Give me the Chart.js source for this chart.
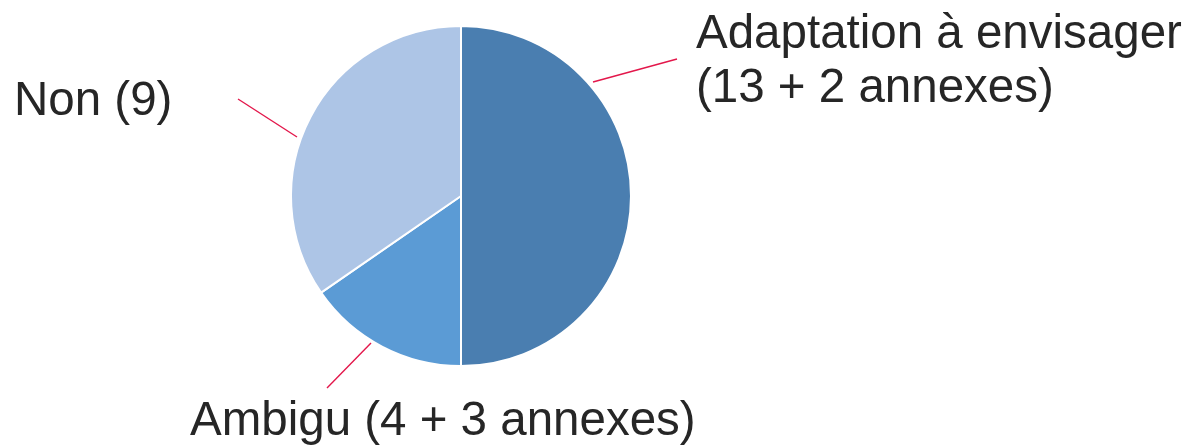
<!DOCTYPE html>
<html>
<head>
<meta charset="utf-8">
<script src="https://cdn.jsdelivr.net/npm/chart.js@4/dist/chart.umd.min.js"></script>
<style>
  html, body { margin: 0; padding: 0; background: #ffffff; }
  #wrap { position: relative; width: 1189px; height: 445px; }
</style>
</head>
<body>
<div id="wrap"><canvas id="c"></canvas></div>
<script>
// ---- data ----
const categories = ["Adaptation à envisager", "Ambigu", "Non"];
const values = [13, 4, 9];
const labelLines = [
  ["Adaptation à envisager", "(13 + 2 annexes)"],
  ["Ambigu (4 + 3 annexes)"],
  ["Non (9)"]
];
const colors = ["#4A7EB0", "#5B9BD5", "#ADC5E6"];

// ---- label layout (offsets from the pie centre, px) ----
const labelLayout = [
  { tx: 235, ty: -148, lineH: 54, leader: [[132, -114], [216, -137]] },
  { tx: -271, ty: 239, lineH: 54, leader: [[-90, 147], [-134, 192]] },
  { tx: -447, ty: -81, lineH: 54, leader: [[-164, -59], [-223, -97]] }
];

const calloutPlugin = {
  id: 'callouts',
  afterDatasetsDraw(chart) {
    const ctx = chart.ctx;
    const meta = chart.getDatasetMeta(0);
    meta.data.forEach((arc, i) => {
      const cx = arc.x, cy = arc.y;
      const L = labelLayout[i];
      ctx.save();
      ctx.strokeStyle = '#E3174B';
      ctx.lineWidth = 1.4;
      ctx.beginPath();
      ctx.moveTo(cx + L.leader[0][0], cy + L.leader[0][1]);
      ctx.lineTo(cx + L.leader[1][0], cy + L.leader[1][1]);
      ctx.stroke();
      ctx.fillStyle = '#262626';
      ctx.font = '47.5px "Liberation Sans", Arial, sans-serif';
      ctx.textAlign = 'left';
      ctx.textBaseline = 'alphabetic';
      labelLines[i].forEach((t, k) => {
        ctx.fillText(t, cx + L.tx, cy + L.ty + k * L.lineH);
      });
      ctx.restore();
    });
  }
};

new Chart(document.getElementById('c'), {
  type: 'pie',
  data: {
    labels: categories,
    datasets: [{
      data: values,
      backgroundColor: colors,
      borderColor: '#ffffff',
      borderWidth: 2
    }]
  },
  options: {
    responsive: true,
    maintainAspectRatio: false,
    animation: false,
    layout: { padding: { left: 290, right: 557, top: 25, bottom: 78 } },
    plugins: { legend: { display: false }, tooltip: { enabled: false } }
  },
  plugins: [calloutPlugin]
});
</script>
</body>
</html>
